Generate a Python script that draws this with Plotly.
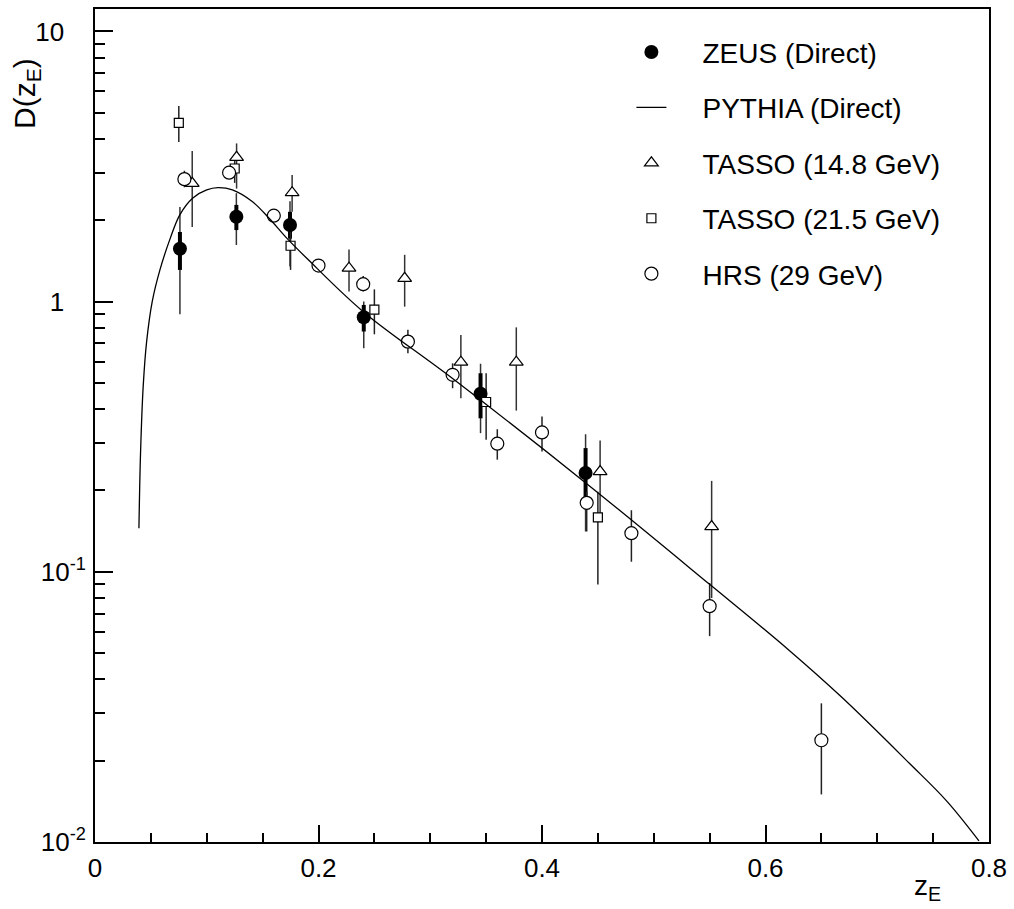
import numpy as np
import plotly.graph_objects as go

# ---------------- data ----------------
zeus_x = [0.076, 0.1265, 0.1745, 0.2405, 0.345, 0.439]
zeus_y = [1.57, 2.06, 1.92, 0.875, 0.456, 0.232]
zeus_stat_hi = [1.81, 2.28, 2.15, 0.972, 0.543, 0.287]
zeus_stat_lo = [1.31, 1.84, 1.71, 0.775, 0.370, 0.184]
zeus_tot_hi = [2.24, 2.52, 2.35, 1.0, 0.589, 0.323]
zeus_tot_lo = [0.898, 1.62, 1.35, 0.672, 0.326, 0.141]

pythia_x = [0.0393, 0.0408, 0.0432, 0.0462, 0.0512, 0.0581, 0.067, 0.076, 0.0876,
            0.100, 0.110, 0.123, 0.141, 0.156, 0.172, 0.190, 0.24, 0.32,
            0.44, 0.55, 0.62, 0.669, 0.7285, 0.762, 0.791]
pythia_y = [0.145, 0.279, 0.492, 0.711, 1.0, 1.31, 1.70, 2.10, 2.42,
            2.59, 2.64, 2.59, 2.34, 2.03, 1.71, 1.44, 0.918, 0.519,
            0.212, 0.0899, 0.0517, 0.0341, 0.0196, 0.0142, 0.0101]

t14_x = [0.087, 0.1267, 0.1764, 0.2273, 0.2771, 0.3274, 0.377, 0.452, 0.5518]
t14_y = [2.74, 3.42, 2.53, 1.33, 1.22, 0.597, 0.597, 0.235, 0.147]
t14_hi = [3.61, 3.85, 2.94, 1.56, 1.49, 0.753, 0.803, 0.306, 0.217]
t14_lo = [1.89, 2.62, 2.15, 1.09, 0.958, 0.439, 0.395, 0.165, 0.080]

t21_x = [0.075, 0.125, 0.175, 0.25, 0.35, 0.45]
t21_y = [4.59, 3.11, 1.61, 0.934, 0.425, 0.159]
t21_hi = [5.30, 3.45, 1.81, 1.11, 0.543, 0.198]
t21_lo = [3.90, 2.75, 1.31, 0.757, 0.308, 0.0897]

hrs_x = [0.08, 0.12, 0.16, 0.20, 0.24, 0.28, 0.32, 0.36, 0.40, 0.44, 0.48, 0.55, 0.65]
hrs_y = [2.84, 3.0, 2.08, 1.36, 1.16, 0.711, 0.536, 0.298, 0.328, 0.18, 0.139, 0.0746, 0.0238]
hrs_hi = [3.05, 3.1, 2.15, 1.42, 1.245, 0.786, 0.591, 0.337, 0.376, 0.198, 0.169, 0.0909, 0.0326]
hrs_lo = [2.65, 2.9, 2.0, 1.30, 1.09, 0.644, 0.478, 0.26, 0.279, 0.141, 0.109, 0.0578, 0.0150]

names = ["ZEUS (Direct)", "PYTHIA (Direct)", "TASSO (14.8 GeV)", "TASSO (21.5 GeV)", "HRS (29 GeV)"]
x_tick_vals = [0, 0.2, 0.4, 0.6, 0.8]
x_tick_text = ["0", "0.2", "0.4", "0.6", "0.8"]
y_tick_vals = [0.01, 0.1, 1, 10]
y_tick_text = ["10<sup>-2</sup>", "10<sup>-1</sup>", "1\u00a0\u00a0\u00a0", "10\u00a0\u00a0\u00a0"]

FONT = "Liberation Sans, Arial, Helvetica, sans-serif"
PAD = "\u00a0\u00a0\u00a0\u00a0"


def err(y, hi, lo):
    y = np.array(y); hi = np.array(hi); lo = np.array(lo)
    return hi - y, y - lo


fig = go.Figure()

# --- error bars (drawn first, below the markers) ---
def add_err(x, y, hi, lo, thick, color):
    plus, minus = err(y, hi, lo)
    fig.add_trace(go.Scatter(
        x=x, y=y, mode="markers", marker=dict(size=1, opacity=0),
        error_y=dict(type="data", array=plus, arrayminus=minus, symmetric=False,
                     thickness=thick, width=0, color=color),
        showlegend=False, hoverinfo="skip"))

add_err(zeus_x, zeus_y, zeus_tot_hi, zeus_tot_lo, 1.5, "#333333")
add_err(zeus_x, zeus_y, zeus_stat_hi, zeus_stat_lo, 4, "black")
add_err(t14_x, t14_y, t14_hi, t14_lo, 1.5, "#333333")
add_err(t21_x, t21_y, t21_hi, t21_lo, 1.5, "#222222")
add_err(hrs_x, hrs_y, hrs_hi, hrs_lo, 1.5, "#222222")

# --- markers ---
fig.add_trace(go.Scatter(
    x=zeus_x, y=zeus_y, mode="markers", name=PAD + names[0], legendgroup="a", legendrank=1,
    marker=dict(symbol="circle", size=14, color="black", line=dict(width=0))))
fig.add_trace(go.Scatter(
    x=t14_x, y=t14_y, mode="markers", name=PAD + names[2], legendgroup="c", legendrank=3,
    marker=dict(symbol="triangle-up", size=12, color="white", line=dict(width=1.2, color="black"))))
fig.add_trace(go.Scatter(
    x=t21_x, y=t21_y, mode="markers", name=PAD + names[3], legendgroup="d", legendrank=4,
    marker=dict(symbol="square", size=9, color="white", line=dict(width=1.2, color="black"))))
fig.add_trace(go.Scatter(
    x=hrs_x, y=hrs_y, mode="markers", name=PAD + names[4], legendgroup="e", legendrank=5,
    marker=dict(symbol="circle", size=13, color="white", line=dict(width=1.2, color="black"))))

# --- PYTHIA curve ---
fig.add_trace(go.Scatter(
    x=pythia_x, y=pythia_y, mode="lines", name=PAD + names[1], legendgroup="b", legendrank=2,
    line=dict(color="black", width=1.3, shape="spline", smoothing=1.0)))

minor_y = [m * 10.0 ** e for e in range(-2, 2) for m in range(2, 10) if m * 10.0 ** e < 12]
minor_x = [0.05, 0.1, 0.15, 0.25, 0.3, 0.35, 0.45, 0.5, 0.55, 0.65, 0.7, 0.75]

fig.update_layout(
    width=1014, height=909,
    margin=dict(l=95, r=24, t=7, b=67),
    paper_bgcolor="white", plot_bgcolor="white",
    font=dict(family=FONT, size=26, color="black"),
    showlegend=True,
    legend=dict(x=0.6, xanchor="left", y=0.978, yanchor="top",
                bgcolor="rgba(0,0,0,0)", borderwidth=0,
                font=dict(family=FONT, size=28, color="black"),
                tracegroupgap=16, traceorder="grouped"),
    xaxis=dict(range=[0, 0.8], type="linear", showgrid=False, zeroline=False,
               showline=True, linecolor="black", linewidth=2, mirror=True,
               ticks="inside", ticklen=17, tickwidth=1.5, tickcolor="black",
               tickmode="array", tickvals=x_tick_vals, ticktext=x_tick_text,
               ticklabelstandoff=2,
               minor=dict(ticks="inside", ticklen=9, tickwidth=1.5, tickcolor="black",
                          tickmode="array", tickvals=minor_x),
               tickfont=dict(family=FONT, size=26)),
    yaxis=dict(type="log", range=[-2, 1.083], showgrid=False, zeroline=False,
               showline=True, linecolor="black", linewidth=2, mirror=True,
               ticks="inside", ticklen=18, tickwidth=1.5, tickcolor="black",
               tickmode="array", tickvals=y_tick_vals, ticktext=y_tick_text,
               ticklabelstandoff=2,
               minor=dict(ticks="inside", ticklen=10, tickwidth=1.5, tickcolor="black",
                          tickmode="array", tickvals=minor_y),
               tickfont=dict(family=FONT, size=26)),
    annotations=[
        dict(text="D(z<sub>E</sub>)", xref="paper", yref="paper",
             x=-0.076, y=0.898, xanchor="center", yanchor="middle",
             textangle=-90, showarrow=False, font=dict(family=FONT, size=30)),
        dict(text="z<sub>E</sub>", xref="paper", yref="paper",
             x=0.9307, y=-0.055, xanchor="center", yanchor="middle",
             showarrow=False, font=dict(family=FONT, size=28)),
    ],
)

fig.write_html("out.html")
